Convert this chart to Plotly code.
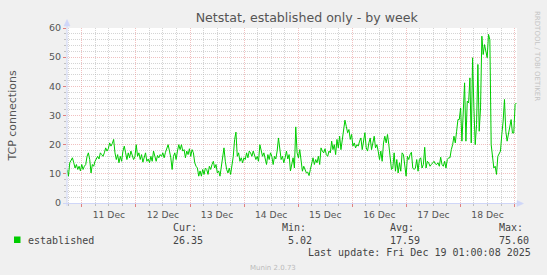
import pandas as pd
import plotly.graph_objects as go

# ---------------- data ----------------
title_text = "Netstat, established only - by week"
y_label = "TCP connections"
series_name = "established"
start_time = "2025-12-10 17:28"
end_time = "2025-12-19 00:50"
x_range = ["2025-12-10 17:25", "2025-12-19 01:05"]
y_range = [0, 60]

seg_dec10_12 = [11.5, 9.2, 13.8, 14.9, 15.5, 13.8, 12, 13.2, 11.5, 12.6, 11, 13.2, 11.5, 12.6, 13.2, 16, 17.2,
                14.9, 10.3, 13.2, 12.6, 14.3, 15.1, 16, 15.1, 17.2, 16.6, 16, 17.2, 18.9, 17.8, 18.6, 20.6, 19.5,
                20.4, 21.8, 17.2, 14.9, 16.6, 13.8, 16, 14.3, 17.8, 19.5, 17.2, 14.9, 17.2, 15.5, 17.8, 16, 14.9,
                15.8, 20, 16, 17.2, 14.9, 16.6, 14, 16, 17.2, 14.3, 15.1, 13.8, 16, 14.3, 17.8, 16, 14.3, 16.3,
                15.5, 16.6, 16, 17.2, 15.5, 17.4, 18.9, 20, 17.8, 15.5, 11.5, 16, 17.2, 14.9, 17.8, 20, 18.3, 20,
                17.8]
seg_dec12_14 = [18.3, 15.5, 17.8, 16.6, 18.6, 16, 18.3, 17.2, 13.8, 12.6, 12, 9.2, 11, 9.2, 11.5, 9.8, 12, 11.5,
                9.8, 12.6, 11.5, 13.2, 14.3, 12, 13.2, 10.3, 11, 9.2, 12, 16, 18.9, 14.3, 11.5, 10.3, 12, 9.8,
                13.2, 16, 21.8, 24.3, 16, 17.2, 14.3, 15.5, 13.8, 15.5, 14.9, 17.2, 15.5, 17.8, 17.2, 16, 17.8,
                16.6, 14.9, 16, 14.3, 20, 17.8, 16, 17.2, 14.9, 13.2, 16.6, 14.9, 17.2, 16, 13.2, 16, 15.1, 17.8,
                22.3, 18.3, 14.9, 16, 13.8, 15.5, 17.8, 15.1, 16.6, 11, 13.8, 15.5, 12, 26.1, 17.2, 15.5]
seg_dec14_17 = [18.3, 13.2, 10.9, 12.6, 11.5, 10.3, 10.6, 9.4, 11.5, 13.8, 15.5, 13.2, 14.9, 13.8, 16, 13.2, 18.9,
                17.8, 17.2, 18.6, 16.6, 16, 17.8, 17.2, 21.2, 18.3, 20, 16.6, 21.8, 18.9, 22.9, 18.3, 21.2, 25.2,
                28.4, 26.3, 24.1, 25.2, 21.8, 23.5, 19.5, 20.6, 18.9, 20, 19.5, 21.2, 22.3, 18.3, 21.8, 24.1, 18.9,
                17.8, 20.6, 22.3, 18.3, 20.6, 22.9, 18.9, 20, 17.8, 14.9, 17.8, 14.3, 20.6, 22.9, 20.6, 23.5, 20,
                14.9, 11.5, 12, 17.2, 10.9, 14.9, 10.3, 13.8, 10.9, 17.2, 16.6, 13.2, 9.2, 16, 14.9, 16.6, 17.4,
                12, 11.5]
seg_dec17_19 = [12, 14.9, 10.9, 14.9, 15.5, 12, 13.2, 19.1, 12, 14.3, 13.8, 12.6, 13.2, 13.8, 14.3, 13.4, 13.2,
                13.8, 12.6, 15.7, 13.2, 12.6, 14.3, 12, 14.9, 15.5, 15.5, 18.3, 20, 22.9, 20.6, 24.6, 28.6, 28.6,
                32.6, 21.2, 30.9, 41.2, 21.2, 34.9, 34.3, 42.9, 20.6, 49.8, 32.6, 20, 26.9, 47.5, 24.6, 32.6, 57.2,
                50.9, 54.3, 51.5, 49.8, 57.8, 56, 20, 15.5, 12, 12.6, 9.8, 16, 17.2, 17.8, 23.5, 28, 35.5, 24.6,
                21.2, 23.5, 25.8, 28.6, 24, 24, 33.8, 34.3]
established = seg_dec10_12 + seg_dec12_14 + seg_dec14_17 + seg_dec17_19

legend_headers = ["Cur:", "Min:", "Avg:", "Max:"]
legend_values = ["26.35", "5.02", "17.59", "75.60"]
last_update = "Last update: Fri Dec 19 01:00:08 2025"
footer = "Munin 2.0.73"
side_text = "RRDTOOL / TOBI OETIKER"

# ---------------- layout geometry (pixels) ----------------
W, H = 547, 275
L, R, T, B = 67, 30, 28, 72
PW, PH = W - L - R, H - T - B


def px(x):
    return (x - L) / PW


def py(y):
    return (H - B - y) / PH


times = pd.date_range(start_time, end_time, periods=len(established))

GREEN = "#00CC00"
AXIS = "#CFD6F8"
MGRID = "rgba(230,140,140,0.55)"
GRID = "rgba(170,170,170,0.5)"
TXT = "#555555"

fig = go.Figure()
fig.add_trace(go.Scatter(x=times, y=established, mode="lines",
                         line=dict(color=GREEN, width=1), showlegend=False, hoverinfo="skip"))

fig.update_layout(
    width=W, height=H,
    margin=dict(l=L, r=R, t=T, b=B, pad=0),
    paper_bgcolor="#F0F0F0", plot_bgcolor="#FFFFFF",
    font=dict(family="DejaVu Sans", color=TXT),
    title=dict(text=title_text, x=(L + PW / 2) / W - 0.001, xanchor="center", xref="paper",
               y=1 - 18 / H, yanchor="middle", yref="container",
               font=dict(size=12.6, color="#555555", family="DejaVu Sans")),
    showlegend=False,
)

fig.update_xaxes(
    type="date", range=x_range,
    tick0="2025-12-11", dtick=86400000, tickformat="%d %b", ticklabelmode="period",
    tickfont=dict(size=9.2, color=TXT, family="DejaVu Sans"),
    ticks="outside", ticklen=3, tickcolor="#E08080", tickwidth=1,
    showgrid=True, gridcolor=MGRID, griddash="1px,1px", gridwidth=1,
    minor=dict(dtick=21600000, tick0="2025-12-11", showgrid=True, gridcolor=GRID,
               griddash="1px,1px", gridwidth=1, ticks="outside", ticklen=2, tickcolor="#C0C0C0"),
    showline=False, zeroline=False, fixedrange=True,
)
fig.update_yaxes(
    range=y_range, dtick=10, tick0=0,
    tickfont=dict(size=9.5, color=TXT, family="DejaVu Sans"),
    ticks="outside", ticklen=3, tickcolor="#E08080",
    showgrid=True, gridcolor=MGRID, griddash="1px,1px", gridwidth=1,
    minor=dict(dtick=2, showgrid=True, gridcolor=GRID, griddash="1px,1px", gridwidth=1,
               ticks="outside", ticklen=2, tickcolor="#C0C0C0"),
    showline=False, zeroline=False, fixedrange=True,
    title=dict(text=y_label, font=dict(size=11, color=TXT, family="DejaVu Sans"), standoff=30),
)

# axis lines with arrows
shapes = [
    dict(type="line", xref="paper", yref="paper", x0=px(L), x1=px(L), y0=py(206), y1=py(24),
         line=dict(color=AXIS, width=1)),
    dict(type="line", xref="paper", yref="paper", x0=px(63), x1=px(519), y0=py(203.5), y1=py(203.5),
         line=dict(color=AXIS, width=1)),
    dict(type="path", xref="paper", yref="paper",
         path=f"M {px(L)},{py(19.5)} L {px(L - 3)},{py(26)} L {px(L + 3)},{py(26)} Z",
         fillcolor=AXIS, line=dict(color=AXIS, width=0.5)),
    dict(type="path", xref="paper", yref="paper",
         path=f"M {px(523.5)},{py(203.5)} L {px(517)},{py(200.5)} L {px(517)},{py(206.5)} Z",
         fillcolor=AXIS, line=dict(color=AXIS, width=0.5)),
    dict(type="rect", xref="paper", yref="paper", x0=px(14), x1=px(20.5), y0=py(243), y1=py(236.5),
         fillcolor=GREEN, line=dict(color=GREEN, width=0)),
]
fig.update_layout(shapes=shapes)

MONO = dict(family="DejaVu Sans Mono", size=10, color="#444444")
ann = []


def add_text(text, x, y, xanchor="left", font=MONO, **kw):
    ann.append(dict(text=text, x=px(x), y=py(y), xref="paper", yref="paper", showarrow=False,
                    xanchor=xanchor, yanchor="middle", font=font, **kw))


header_x = [171, 280, 388, 497]
value_x = [171, 286, 388, 497]
for h, hx in zip(legend_headers, header_x):
    add_text(h, hx, 227)
add_text(series_name, 26, 240)
for v, vx in zip(legend_values, value_x):
    add_text(v, vx, 240)
add_text(last_update, 532.5, 253, xanchor="right")
add_text(footer, 273, 268, xanchor="center",
         font=dict(family="DejaVu Sans", size=7, color="#BBBBBB"))
ann.append(dict(text=side_text, x=px(537), y=py(56), xref="paper", yref="paper", showarrow=False,
                xanchor="center", yanchor="middle", textangle=90,
                font=dict(family="DejaVu Sans", size=7, color="#C4C4C4")))
fig.update_layout(annotations=ann)

fig.write_html("out.html")
